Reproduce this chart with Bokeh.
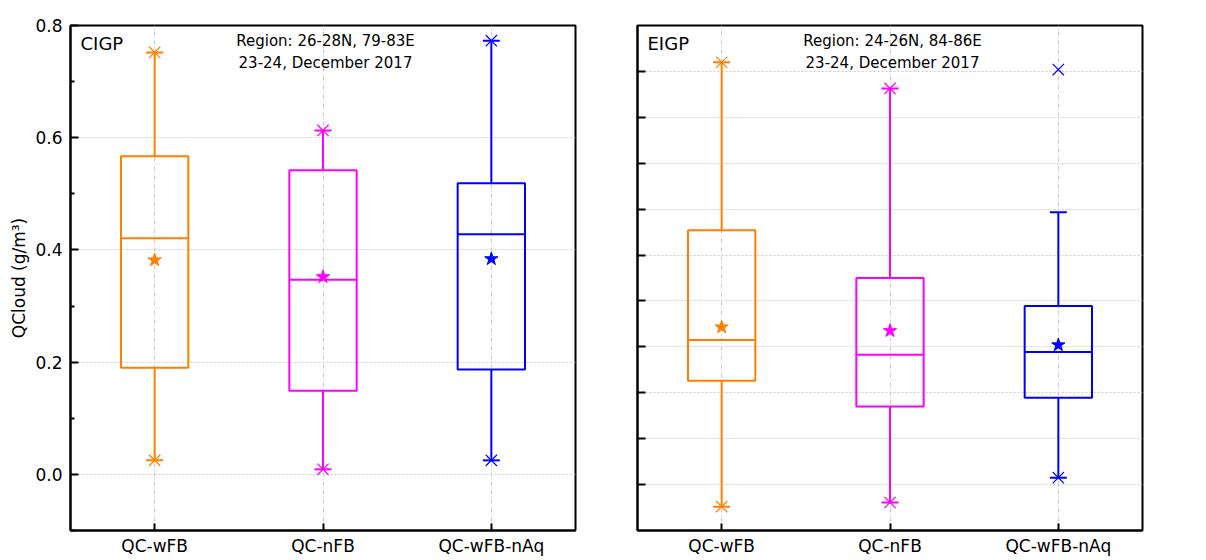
from bokeh.plotting import figure
from bokeh.layouts import row
from bokeh.models import (ColumnDataSource, FactorRange, Range1d, FixedTicker,
                          Label, CustomJSTickFormatter, PrintfTickFormatter)
from bokeh.transform import dodge
from bokeh.embed import file_html
from bokeh.resources import INLINE

# ---------------- data ----------------
categories = ["QC-wFB", "QC-nFB", "QC-wFB-nAq"]
colors = ["#FF8000", "#FF00FF", "#0000FF"]

# CIGP panel (g/m3)
cigp_min = [0.025, 0.009, 0.025]
cigp_low = [0.025, 0.009, 0.025]
cigp_q1 = [0.190, 0.149, 0.187]
cigp_median = [0.421, 0.347, 0.428]
cigp_mean = [0.382, 0.352, 0.384]
cigp_q3 = [0.567, 0.542, 0.519]
cigp_high = [0.752, 0.613, 0.773]
cigp_max = [0.752, 0.613, 0.773]

# EIGP panel
eigp_min = [-0.148, -0.139, -0.085]
eigp_low = [-0.148, -0.139, -0.085]
eigp_q1 = [0.126, 0.070, 0.089]
eigp_median = [0.215, 0.183, 0.189]
eigp_mean = [0.243, 0.235, 0.204]
eigp_q3 = [0.454, 0.350, 0.289]
eigp_high = [0.820, 0.763, 0.493]
eigp_max = [0.820, 0.763, 0.804]

cigp_ticks = [0.0, 0.2, 0.4, 0.6, 0.8]
cigp_minor = [-0.1, 0.1, 0.3, 0.5, 0.7]
eigp_ticks = [-0.1, 0.0, 0.1, 0.2, 0.3, 0.4, 0.5, 0.6, 0.7, 0.8]

FONT = "DejaVu Sans"


def make_panel(name, region, mn, low, q1, med, mean, q3, high, mx,
               y_range, ticks, minor, show_labels, width, bl, br):
    src = ColumnDataSource(dict(cat=categories, color=colors, mn=mn, low=low,
                                q1=q1, med=med, mean=mean, q3=q3, high=high,
                                mx=mx))
    p = figure(x_range=FactorRange(*categories, range_padding=0.0),
               y_range=Range1d(*y_range), width=width, height=558,
               output_backend="svg", toolbar_location=None,
               min_border_left=bl, min_border_right=br,
               min_border_top=25, min_border_bottom=27)
    p.background_fill_color = "white"
    p.border_fill_color = "white"
    p.outline_line_color = "black"
    p.outline_line_width = 2

    # grids
    p.xgrid.grid_line_color = "#c8c8c8"
    p.xgrid.grid_line_dash = "4 2 1 2"
    p.ygrid.grid_line_color = "#cccccc"
    p.ygrid.grid_line_dash = "2 2"

    # whiskers
    p.segment(x0="cat", y0="q3", x1="cat", y1="high", line_color="color",
              line_width=2, source=src)
    p.segment(x0="cat", y0="q1", x1="cat", y1="low", line_color="color",
              line_width=2, source=src)
    # boxes
    p.vbar(x="cat", width=0.4, bottom="q1", top="q3", fill_color=None,
           line_color="color", line_width=2, source=src)
    # median
    p.segment(x0=dodge("cat", -0.2, range=p.x_range), y0="med",
              x1=dodge("cat", 0.2, range=p.x_range), y1="med",
              line_color="color", line_width=2, source=src)
    # caps
    for col in ("high", "low"):
        p.scatter(x="cat", y=col, marker="dash", size=17, line_color="color",
                  line_width=2, source=src)
    # min / max markers
    for col in ("mn", "mx"):
        p.scatter(x="cat", y=col, marker="x", size=16, line_color="color",
                  line_width=1.2, source=src)
    # mean
    p.scatter(x="cat", y="mean", marker="star", size=14, fill_color="color",
              line_color="color", source=src)

    # axes
    for ax in (p.xaxis[0], p.yaxis[0]):
        ax.axis_line_color = "black"
        ax.axis_line_width = 2
        ax.major_tick_line_color = "black"
        ax.major_tick_line_width = 2
        ax.minor_tick_line_color = "black"
        ax.minor_tick_line_width = 2
        ax.major_tick_out = 0
        ax.minor_tick_out = 0
        ax.major_label_text_font = FONT
        ax.major_label_text_font_size = "17px"
        ax.major_label_text_color = "black"
        ax.axis_label_text_font = FONT
        ax.axis_label_text_font_size = "17px"
        ax.axis_label_text_font_style = "normal"
        ax.axis_label_text_color = "black"
    p.xaxis.major_tick_in = 7
    p.xaxis.major_label_standoff = 5
    p.yaxis.major_tick_in = 8
    p.yaxis.minor_tick_in = 4
    p.yaxis.major_label_standoff = 8
    p.yaxis.ticker = FixedTicker(ticks=ticks, minor_ticks=minor)
    if show_labels:
        p.yaxis.axis_label = "QCloud (g/m³)"
        p.yaxis.axis_label_standoff = 3
        p.yaxis.formatter = PrintfTickFormatter(format="%.1f")
    else:
        p.yaxis.formatter = CustomJSTickFormatter(code="return ''")

    # annotations
    p.add_layout(Label(x=10, y=498, x_units="screen", y_units="screen",
                       text=name, text_font=FONT, text_font_size="18px",
                       text_color="black", text_baseline="top"))
    p.add_layout(Label(x=255, y=490, x_units="screen", y_units="screen",
                       text=region, text_font=FONT, text_font_size="15px",
                       text_color="black", text_align="center",
                       text_baseline="middle"))
    p.add_layout(Label(x=255, y=468, x_units="screen", y_units="screen",
                       text="23-24, December 2017", text_font=FONT,
                       text_font_size="15px", text_color="black",
                       text_align="center", text_baseline="middle"))
    return p


p1 = make_panel("CIGP", "Region: 26-28N, 79-83E", cigp_min, cigp_low, cigp_q1,
                cigp_median, cigp_mean, cigp_q3, cigp_high, cigp_max,
                (-0.1, 0.8), cigp_ticks, cigp_minor, True, 608, 70, 33)
p2 = make_panel("EIGP", "Region: 24-26N, 84-86E", eigp_min, eigp_low, eigp_q1,
                eigp_median, eigp_mean, eigp_q3, eigp_high, eigp_max,
                (-0.2, 0.9), eigp_ticks, [], False, 590, 29, 56)

layout = row(p1, p2)
open("out.html", "w").write(file_html(layout, INLINE))
